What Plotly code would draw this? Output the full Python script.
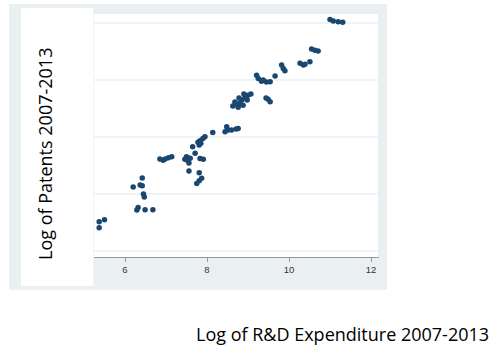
import plotly.graph_objects as go

# Log of R&D expenditure 2007-2013 (x) and log of patents 2007-2013 (y)
rd_log = [5.37, 5.37, 5.50, 6.29, 6.32, 6.49, 6.68, 6.45, 6.47, 6.37, 6.42, 6.20, 6.42,
          6.85, 6.98, 7.06, 7.14, 6.93, 7.50, 7.46, 7.52, 7.59, 7.56, 7.71, 7.83, 7.91,
          7.56, 7.81, 7.87, 7.81, 7.75, 7.65, 7.81, 7.85, 7.83, 7.90, 7.95, 7.78,
          8.14, 8.44, 8.48, 8.52, 8.60, 8.71, 8.76,
          8.63, 8.71, 8.80, 8.76, 8.85, 8.93, 9.00, 9.07, 8.90, 8.78, 8.88, 8.98, 8.68,
          9.49, 9.54, 9.44, 9.21, 9.25, 9.33, 9.45, 9.54, 9.37, 9.66,
          9.82, 9.86, 9.90, 10.27, 10.35, 10.39, 10.51, 10.55, 10.63, 10.71,
          11.00, 11.08, 11.20, 11.31]
patents_log = [0.81, 1.02, 1.09, 1.43, 1.52, 1.44, 1.44, 1.99, 1.89, 2.31, 2.28, 2.24, 2.55,
               3.22, 3.22, 3.26, 3.30, 3.18, 3.30, 3.21, 3.18, 3.25, 3.08, 3.42, 3.24, 3.21,
               2.80, 2.74, 2.54, 2.46, 2.36, 3.65, 3.71, 3.77, 3.86, 3.94, 4.00, 3.81,
               4.15, 4.18, 4.35, 4.24, 4.24, 4.27, 4.29,
               5.08, 5.15, 5.18, 5.04, 5.29, 5.39, 5.46, 5.50, 5.50, 5.36, 5.11, 5.29, 5.22,
               5.32, 5.23, 5.36, 6.16, 6.05, 5.95, 5.92, 5.93, 5.99, 6.13,
               6.52, 6.40, 6.32, 6.58, 6.52, 6.55, 6.63, 7.08, 7.04, 7.01,
               8.12, 8.06, 8.04, 8.02]

x_ticks = [6, 8, 10, 12]
y_grid = [0, 2, 4, 6, 8]

x_title = "Log of R&D Expenditure 2007-2013"
y_title = "Log of Patents 2007-2013"

fig = go.Figure()
fig.add_trace(go.Scatter(
    x=rd_log, y=patents_log, mode="markers",
    marker=dict(size=5.5, color="#1a476f", line=dict(width=0)),
    hoverinfo="x+y", showlegend=False,
))

GRAY = "#eaf0f2"
fig.update_layout(
    width=499, height=345,
    margin=dict(l=94, r=120, t=14, b=88),
    paper_bgcolor="white",
    plot_bgcolor="white",
    shapes=[
        dict(type="rect", xref="paper", yref="paper", x0=-0.2982, x1=1.0281,
             y0=-0.135, y1=1.0412, fillcolor=GRAY, line=dict(width=0), layer="below"),
        dict(type="rect", xref="paper", yref="paper", x0=0, x1=1,
             y0=0, y1=1, fillcolor="white", line=dict(width=0), layer="below"),
        dict(type="rect", xref="paper", yref="paper", x0=-0.2561, x1=-0.002,
             y0=-0.119, y1=1.0247, fillcolor="white", line=dict(width=0), layer="below"),
        dict(type="line", xref="paper", yref="paper", x0=1, x1=1, y0=0, y1=1,
             line=dict(color="#dfe7ea", width=1), layer="below"),
    ],
    xaxis=dict(
        range=[5.244, 12.195], tickvals=x_ticks, ticktext=[str(v) for v in x_ticks],
        showgrid=False, zeroline=False, showline=True, linecolor="#9a9a9a", linewidth=1,
        ticks="outside", ticklen=4, tickcolor="#9a9a9a",
        tickfont=dict(family="Liberation Sans, Arial", size=9.5, color="#333333"),
    ),
    yaxis=dict(
        range=[-0.22, 8.31], tickvals=y_grid, showticklabels=False,
        showgrid=True, gridcolor="#eff4f6", gridwidth=1.5, zeroline=False, showline=False,
    ),
    annotations=[
        dict(text=y_title, xref="paper", yref="paper", x=-0.1719, y=0.4239,
             textangle=-90, showarrow=False, xanchor="center", yanchor="middle",
             font=dict(family="Open Sans", size=18, color="black")),
        dict(text=x_title, xref="paper", yref="paper", x=0.8702, y=-0.3169,
             showarrow=False, xanchor="center", yanchor="middle",
             font=dict(family="Open Sans", size=18, color="black")),
    ],
)

fig.write_html("out.html", config={"displayModeBar": False},
               post_script="document.body.style.margin='0';")
